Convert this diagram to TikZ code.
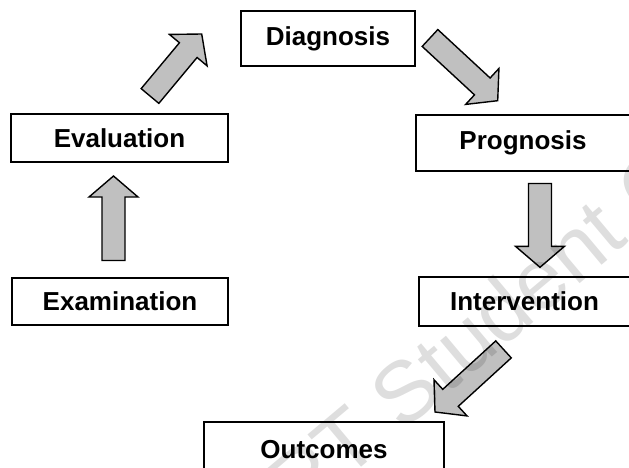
\documentclass[tikz,border=0pt]{standalone}
\usepackage{fontspec}
\setmainfont{Liberation Sans}
\usetikzlibrary{calc}
\definecolor{arrowgray}{RGB}{192,192,192}
\newcommand{\blockarr}[3]{%
  \coordinate (#3b) at ($(#2)!21pt!(#1)$);
  \filldraw[barrow]
    ($(#1)!11.5pt!90:(#2)$) -- ($(#3b)!11.5pt!90:(#2)$) -- ($(#3b)!24.5pt!90:(#2)$) --
    (#2) -- ($(#3b)!24.5pt!-90:(#2)$) -- ($(#3b)!11.5pt!-90:(#2)$) --
    ($(#1)!11.5pt!-90:(#2)$) -- cycle;
}
\begin{document}
\begin{tikzpicture}[x=1pt,y=-1pt,
  box/.style={draw, line width=1.6pt, inner sep=0pt, font=\fontsize{26}{30}\selectfont\bfseries},
  barrow/.style={fill=arrowgray, draw=black, line width=1.4pt, line join=miter},
  wm/.style={text=black, text opacity=0.13, font=\fontsize{86}{100}\selectfont, inner sep=0pt}]
\useasboundingbox (0,0) rectangle (629,468);
\clip (0,0) rectangle (629,468);
\fill[white] (0,0) rectangle (629,468);

% arrow end points
\coordinate (aT) at (150,96);      \coordinate (aP) at (201.7,34);
\coordinate (bT) at (430,38);      \coordinate (bP) at (497.7,100.7);
\coordinate (cT) at (540,183.5);   \coordinate (cP) at (540,267.3);
\coordinate (dT) at (113.5,260.5); \coordinate (dP) at (113.5,176);
\coordinate (eT) at (503.5,349.4); \coordinate (eP) at (435,412);

\blockarr{aT}{aP}{a}
\blockarr{bT}{bP}{b}
\blockarr{cT}{cP}{c}
\blockarr{dT}{dP}{d}
\blockarr{eT}{eP}{e}

% boxes
\node[box, minimum width=174pt, minimum height=55pt] (diag) at (328,38.5) {Diagnosis};
\node[box, minimum width=217pt, minimum height=48pt] (eval) at (119.5,138) {Evaluation};
\node[box, minimum width=214pt, minimum height=56pt] (prog) at (523,143) {Prognosis};
\node[box, minimum width=216pt, minimum height=47pt] (exam) at (120,301.5) {Examination};
\node[box, minimum width=211pt, minimum height=49pt] (interv) at (524.5,301.5) {Intervention};
\node[box, minimum width=240pt, minimum height=56pt] (outc) at (324,450) {Outcomes};

% watermark
\node[wm, rotate=40, anchor=base west] (wmark) at (300.4,518.2) {PT Student Copy};
\end{tikzpicture}
\end{document}
